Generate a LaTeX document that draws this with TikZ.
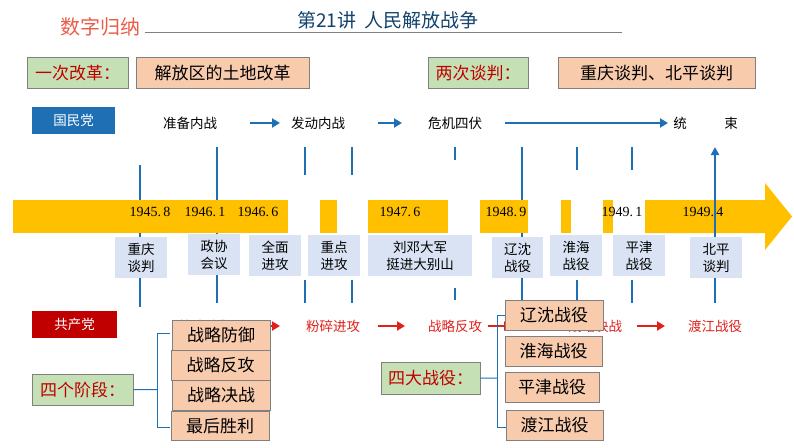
\documentclass[tikz,border=0pt]{standalone}
\usepackage{fontspec}
\setmainfont{Liberation Serif}
\newfontfamily\cjk{Noto Sans CJK SC}
\usetikzlibrary{arrows.meta}
\definecolor{gold}{HTML}{FFC000}
\definecolor{lblue}{HTML}{DAE3F3}
\definecolor{peach}{HTML}{F8CBAD}
\definecolor{lgreen}{HTML}{C5E0B4}
\definecolor{kblue}{HTML}{1F6FB5}
\definecolor{kred}{HTML}{C00000}
\definecolor{tred}{HTML}{E0201B}
\begin{document}
\begin{tikzpicture}[x=1pt,y=-1pt,
  gbox/.style={draw=gray,fill=lgreen,text=kred,font=\cjk\fontsize{17}{19}\selectfont,inner sep=0pt,anchor=north west},
  pbox/.style={draw=gray,fill=peach,font=\cjk\fontsize{17}{19}\selectfont,inner sep=0pt,anchor=north west},
  lbox/.style={fill=lblue,font=\cjk\fontsize{13.5}{17}\selectfont,align=center,inner sep=0pt,anchor=north west},
  rowtxt/.style={font=\cjk\fontsize{13.5}{15}\selectfont},
  redtxt/.style={font=\cjk\fontsize{13.5}{15}\selectfont,text=tred},
  date/.style={font=\fontsize{14}{16}\selectfont},
  bl/.style={draw=kblue,line width=2pt},
  barr/.style={draw=kblue,line width=2.5pt,-{Triangle[length=8pt,width=9pt]}},
  rarr/.style={draw=tred,line width=2.5pt,-{Triangle[length=8pt,width=9pt]}},
  br/.style={draw=kblue,line width=1pt}]
\useasboundingbox (0,0) rectangle (794,447);
% titles
\node[font=\cjk\fontsize{20}{22}\selectfont,text=red!60!brown!80] (t1) at (100,27) {数字归纳};
\node[font=\cjk\fontsize{19}{21}\selectfont,text=kblue!60!black] (t2) at (388,20) {第21讲\ \ 人民解放战争};
\draw[gray,line width=0.6pt] (145,32) -- (622,32);
% top boxes
\node[gbox,minimum width=101pt,minimum height=31pt] (g1) at (27,57) {一次改革：};
\node[pbox,minimum width=173pt,minimum height=31pt] (p1) at (136,57) {解放区的土地改革};
\node[gbox,minimum width=100pt,minimum height=31pt] (g2) at (428,57) {两次谈判：};
\node[pbox,minimum width=197pt,minimum height=31pt] (p2) at (558,57) {重庆谈判、北平谈判};
% KMT row
\node[fill=kblue,text=white,font=\cjk\fontsize{13.5}{15}\selectfont,minimum width=83pt,minimum height=27pt,inner sep=0pt,anchor=north west] (gmd) at (32,107) {国民党};
\node[rowtxt] (k1) at (190,123) {准备内战};
\node[rowtxt] (k2) at (318,123) {发动内战};
\node[rowtxt] (k3) at (455,123) {危机四伏};
\node[rowtxt] (k4) at (680,123) {统};
\node[rowtxt] (k5) at (731,123) {束};
\draw[barr] (250,123) -- (280,123);
\draw[barr] (378,123) -- (402,123);
\draw[barr] (505,123) -- (668,123);
% vertical lines
\draw[bl] (140,165) -- (140,307);
\draw[bl] (217,147) -- (217,303);
\draw[bl] (305,147) -- (305,175); \draw[bl] (305,280) -- (305,303);
\draw[bl] (352,147) -- (352,175); \draw[bl] (352,280) -- (352,303);
\draw[bl] (455,147) -- (455,160); \draw[bl] (455,288) -- (455,300);
\draw[bl] (522,147) -- (522,310);
\draw[bl] (577,147) -- (577,170); \draw[bl] (577,280) -- (577,300);
\draw[bl] (632,147) -- (632,170); \draw[bl] (632,280) -- (632,303);
% bar
\fill[gold] (13,200) rectangle (288,233);
\fill[gold] (320,200) rectangle (337,233);
\fill[gold] (368,200) rectangle (448,233);
\fill[gold] (480,200) rectangle (528,233);
\fill[gold] (561,200) rectangle (571,233);
\fill[gold] (603,200) rectangle (613,233);
\fill[gold] (645,200) -- (765,200) -- (765,183) -- (792,216.5) -- (765,250) -- (765,233) -- (645,233) -- cycle;
\draw[bl,-{Triangle[length=8pt,width=8pt]}] (715,303) -- (715,147);
\node[date] (d1) at (150,212) {1945.\,8};
\node[date] (d2) at (205,212) {1946.\,1};
\node[date] (d3) at (258,212) {1946.\,6};
\node[date] (d4) at (400,212) {1947.\,6};
\node[date] (d5) at (506,212) {1948.\,9};
\node[date] (d6) at (622,212) {1949.\,1};
\node[date] (d7) at (703,212) {1949.\,4};
% label boxes
\node[lbox,minimum width=52pt,minimum height=41pt] (e1) at (115,237) {重庆\\谈判};
\node[lbox,minimum width=52pt,minimum height=41pt] (e2) at (188,234) {政协\\会议};
\node[lbox,minimum width=52pt,minimum height=41pt] (e3) at (249,235) {全面\\进攻};
\node[lbox,minimum width=52pt,minimum height=41pt] (e4) at (308,235) {重点\\进攻};
\node[lbox,minimum width=104pt,minimum height=41pt] (e5) at (368,235) {刘邓大军\\挺进大别山};
\node[lbox,minimum width=51pt,minimum height=41pt] (e6) at (492,237) {辽沈\\战役};
\node[lbox,minimum width=52pt,minimum height=41pt] (e7) at (550,235) {淮海\\战役};
\node[lbox,minimum width=52pt,minimum height=41pt] (e8) at (613,235) {平津\\战役};
\node[lbox,minimum width=52pt,minimum height=41pt] (e9) at (690,237) {北平\\谈判};
% CPC row
\node[fill=kred,text=white,font=\cjk\fontsize{13.5}{15}\selectfont,minimum width=85pt,minimum height=27pt,inner sep=0pt,anchor=north west] (gcd) at (32,311) {共产党};
\node[redtxt] (c1) at (205,326) {战略防御};
\node[redtxt] (c2) at (333,326) {粉碎进攻};
\node[redtxt] (c3) at (455,326) {战略反攻};
\node[redtxt] (c4) at (595,326) {战略决战};
\node[redtxt] (c5) at (715,326) {渡江战役};
\draw[rarr] (258,326) -- (280,326);
\draw[rarr] (378,326) -- (405,326);
\draw[rarr] (488,326) -- (512,326);
\draw[rarr] (637,326) -- (665,326);
% four stages
\node[gbox,minimum width=101pt,minimum height=31pt] (g3) at (32,374) {四个阶段：};
\draw[br] (g3.east) -- (157,389.5);
\draw[br] (170,333) -- (157,333) -- (157,427) -- (170,427);
\node[pbox,minimum width=98pt,minimum height=30pt] (s1) at (172,320) {战略防御};
\node[pbox,minimum width=99pt,minimum height=30pt] (s2) at (171,350) {战略反攻};
\node[pbox,minimum width=98pt,minimum height=30pt] (s3) at (172,380) {战略决战};
\node[pbox,minimum width=98pt,minimum height=29pt] (s4) at (171,411) {最后胜利};
% four battles
\node[gbox,minimum width=99pt,minimum height=32pt] (g4) at (381,362) {四大战役：};
\draw[br] (g4.east) -- (497,378);
\draw[br] (506,315) -- (497,315) -- (497,427) -- (506,427);
\node[pbox,minimum width=98pt,minimum height=30pt] (b1) at (505,300) {辽沈战役};
\node[pbox,minimum width=97pt,minimum height=30pt] (b2) at (505,336) {淮海战役};
\node[pbox,minimum width=94pt,minimum height=30pt] (b3) at (505,372) {平津战役};
\node[pbox,minimum width=97pt,minimum height=30pt] (b4) at (506,410) {渡江战役};
\end{tikzpicture}
\end{document}
